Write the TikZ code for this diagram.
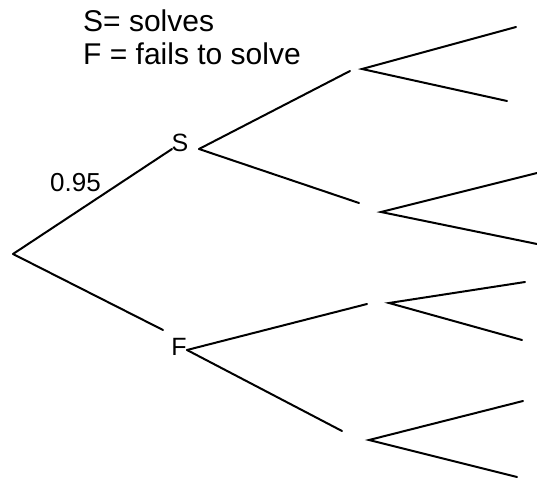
\documentclass[tikz,border=0pt]{standalone}
\usepackage{fontspec}
\setmainfont{Liberation Sans}
\begin{document}
\begin{tikzpicture}[x=1pt,y=-1pt,
  br/.style={line width=2pt,line cap=round},
  lbl/.style={inner sep=0pt,anchor=base,font=\fontsize{25}{29}\selectfont},
  legend/.style={inner sep=0pt,anchor=base west,font=\fontsize{30}{34}\selectfont},
  prob/.style={inner sep=0pt,anchor=base west,font=\fontsize{26}{30}\selectfont}]
\useasboundingbox (0,0) rectangle (537,478);
% legend
\node[legend] (l1) at (83,32) {S= solves};
\node[legend] (l2) at (83,65) {F = fails to solve};
% first level
\coordinate (root) at (13,254);
\node[lbl] (S) at (180,152) {S};
\node[lbl] (F) at (179,355) {F};
\coordinate (Sin) at (172,149);
\coordinate (Fin) at (163,330);
\coordinate (Sv) at (199,149);
\coordinate (Fv) at (187,350);
\draw[br] (root) -- (Sin);
\draw[br] (root) -- (Fin);
\node[prob] (p) at (50,192) {0.95};
% second level incoming
\coordinate (Ain) at (350,71);
\coordinate (Bin) at (359,203);
\coordinate (Cin) at (367,304);
\coordinate (Din) at (342,431);
\draw[br] (Sv) -- (Ain);
\draw[br] (Sv) -- (Bin);
\draw[br] (Fv) -- (Cin);
\draw[br] (Fv) -- (Din);
% second level vertices
\coordinate (A) at (362,69);
\coordinate (B) at (381,212);
\coordinate (C) at (389,303);
\coordinate (D) at (369,440);
\coordinate (A1) at (516,27);
\coordinate (A2) at (507,101);
\coordinate (B1) at (537,173);
\coordinate (B2) at (537,244);
\coordinate (C1) at (525,282);
\coordinate (C2) at (522,340);
\coordinate (D1) at (523,401);
\coordinate (D2) at (517,477);
\draw[br] (A1) -- (A) -- (A2);
\draw[br] (B1) -- (B) -- (B2);
\draw[br] (C1) -- (C) -- (C2);
\draw[br] (D1) -- (D) -- (D2);
\end{tikzpicture}
\end{document}
